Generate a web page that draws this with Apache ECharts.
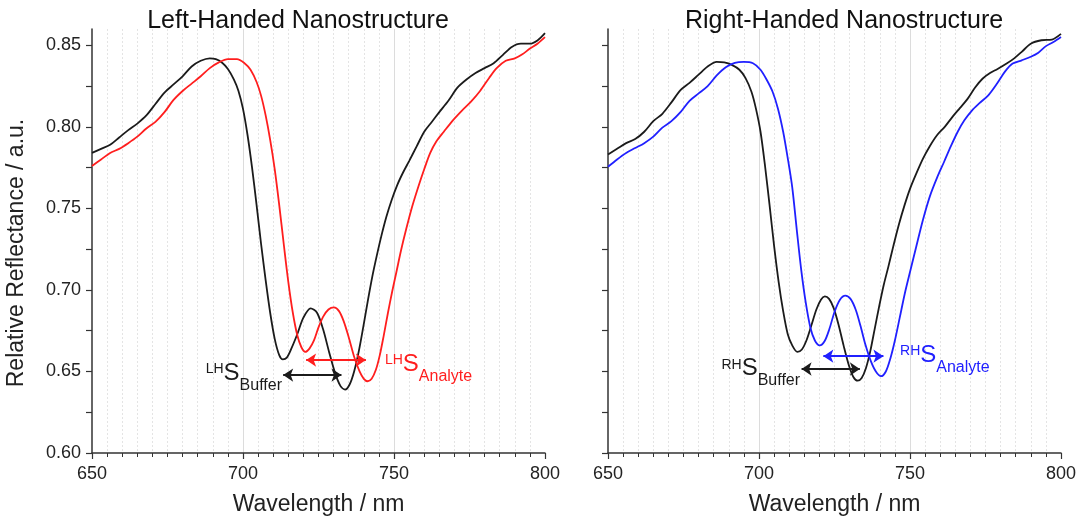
<!DOCTYPE html>
<html>
<head>
<meta charset="utf-8">
<script src="https://cdn.jsdelivr.net/npm/echarts@6/dist/echarts.min.js"></script>
<style>
html,body{margin:0;padding:0;background:#fff;}
#chart{width:1087px;height:526px;}
</style>
</head>
<body>
<div id="chart"></div>
<script>
// ---- Data (wavelength nm, relative reflectance a.u.) ----
const wavelengthLabels = [650, 700, 750, 800];
const reflectanceLabels = [0.60, 0.65, 0.70, 0.75, 0.80, 0.85];
const reflectanceTicks = [0.60, 0.625, 0.65, 0.675, 0.70, 0.725, 0.75, 0.775, 0.80, 0.825, 0.85];

const lhBuffer = [
  [650,0.784],[653,0.7865],[656,0.789],[659,0.7935],[662,0.798],[665,0.802],[668,0.807],[671,0.814],
  [674,0.821],[677,0.826],[680,0.831],[683,0.837],[686,0.8405],[689,0.842],[691,0.8415],[693,0.8395],
  [695,0.8355],[697,0.829],[698.5,0.822],[700,0.811],[701.5,0.795],[703,0.775],[704.5,0.752],[706,0.728],
  [707.5,0.706],[709,0.686],[710.5,0.670],[712,0.660],[713.2,0.6574],[714.5,0.6585],[716,0.664],[718,0.673],
  [720,0.683],[722.4,0.6887],[724.5,0.686],[726.5,0.676],[728.5,0.662],[730.5,0.649],[732.3,0.641],
  [733.8,0.6389],[735.3,0.642],[736.8,0.650],[738.3,0.662],[739.8,0.677],[741.3,0.693],[742.8,0.708],
  [744.3,0.721],[745.8,0.733],[747.5,0.745],[749.2,0.755],[751,0.764],[753,0.772],[755,0.779],[757.5,0.788],
  [760,0.797],[762.5,0.803],[765,0.809],[768,0.816],[771,0.824],[774,0.829],[777,0.833],[780,0.836],
  [783,0.839],[786,0.844],[789,0.849],[792,0.851],[795,0.851],[797.5,0.853],[800,0.8575]
];
const lhAnalyte = [
  [650,0.776],[653,0.780],[656,0.784],[659,0.7865],[662,0.790],[665,0.794],[668,0.799],[671,0.803],
  [674,0.809],[677,0.8165],[680,0.822],[683,0.8265],[686,0.831],[689,0.836],[692,0.8395],[695,0.8415],
  [698,0.8415],[700.5,0.839],[702.5,0.835],[704.5,0.8275],[706,0.819],[707.5,0.807],[709,0.792],[710.5,0.774],
  [712,0.752],[713.5,0.728],[715,0.705],[716.5,0.686],[718,0.672],[719.3,0.665],[720.6,0.662],[722,0.664],
  [723.5,0.669],[725,0.677],[726.5,0.6835],[728.3,0.688],[730.1,0.6893],[731.8,0.687],[733.3,0.681],
  [735,0.671],[736.8,0.659],[738.6,0.650],[740,0.6455],[741.3,0.644],[742.6,0.6455],[744,0.651],
  [745.3,0.660],[746.6,0.672],[748,0.686],[749.4,0.699],[750.8,0.711],[752.3,0.724],[754,0.737],
  [756,0.751],[758,0.763],[760,0.774],[762,0.784],[764,0.791],[766.5,0.797],[769.5,0.804],[772.5,0.810],
  [775.5,0.8155],[778.5,0.822],[781.5,0.830],[784,0.836],[787,0.8405],[790,0.842],[792.5,0.8445],
  [795,0.848],[797.5,0.851],[800,0.855]
];
const rhBuffer = [
  [650,0.783],[653,0.7865],[656,0.790],[659,0.7925],[662,0.797],[665,0.8035],[668,0.808],[671,0.815],
  [674,0.8225],[677,0.827],[680,0.832],[683,0.837],[686,0.8398],[688.5,0.8395],[691,0.838],[693.5,0.835],
  [695.5,0.830],[697.5,0.8215],[699,0.811],[700.5,0.797],[702,0.776],[703.5,0.752],[705,0.727],[706.5,0.705],
  [708,0.687],[709.5,0.673],[711,0.666],[712.7,0.662],[714.2,0.6635],[715.7,0.669],[717.3,0.678],[719,0.688],
  [720.5,0.694],[721.8,0.696],[723.2,0.6945],[724.7,0.689],[726.3,0.679],[728,0.666],[729.8,0.6535],
  [731.3,0.6465],[732.7,0.6444],[734,0.646],[735.4,0.652],[736.8,0.662],[738.3,0.676],[739.8,0.690],
  [741.3,0.703],[742.8,0.714],[744.5,0.727],[746.3,0.740],[748.2,0.752],[750,0.762],[752,0.771],
  [754.3,0.7805],[756.5,0.788],[759,0.795],[761.5,0.800],[764,0.806],[766.5,0.8115],[769,0.817],
  [771.5,0.824],[774,0.8295],[776.5,0.833],[779,0.8355],[782,0.8388],[784.5,0.842],[787,0.846],
  [790,0.851],[793.5,0.8531],[797,0.8535],[800,0.857]
];
const rhAnalyte = [
  [650,0.7755],[653,0.780],[656,0.784],[659,0.787],[662,0.790],[665,0.794],[668,0.7995],[671,0.8035],
  [674,0.809],[677,0.816],[680,0.8205],[683,0.825],[686,0.8315],[689,0.8365],[692,0.8392],[695,0.8398],
  [698,0.839],[700.5,0.835],[702.5,0.829],[704.5,0.8215],[706.3,0.811],[708,0.797],[709.5,0.781],[711,0.763],
  [712.5,0.737],[714,0.712],[715.5,0.692],[717,0.677],[718.5,0.669],[720.1,0.666],[721.7,0.6685],[723.3,0.676],
  [725,0.6865],[726.8,0.694],[728.6,0.6965],[730.3,0.6945],[732,0.688],[733.6,0.678],[735.3,0.666],
  [737,0.6565],[738.7,0.650],[740.4,0.6471],[742,0.650],[743.5,0.658],[745,0.669],[746.6,0.683],
  [748.3,0.698],[750,0.711],[752,0.726],[754.3,0.743],[756.6,0.7575],[759,0.769],[761.3,0.7786],
  [763.5,0.788],[765.8,0.797],[768,0.804],[770.5,0.810],[773,0.8145],[776,0.8195],[779,0.827],
  [781.5,0.834],[784,0.8388],[787,0.8408],[790,0.843],[792.5,0.8455],[795,0.8495],[797.5,0.852],[800,0.8551]
];

// shift arrows: [startWavelength, endWavelength, reflectance]
const lhBufferShift = [713.3, 732.6, 0.6478];
const lhAnalyteShift = [720.9, 740.7, 0.6570];
const rhBufferShift = [714.1, 733.4, 0.6515];
const rhAnalyteShift = [721.3, 741.2, 0.6594];

// label anchors: [wavelength, reflectance]
const lhBufferLabelAt = [712.9, 0.6487];
const lhAnalyteLabelAt = [747.0, 0.6542];
const rhBufferLabelAt = [713.6, 0.6516];
const rhAnalyteLabelAt = [746.7, 0.6600];

const titles = ['Left-Handed Nanostructure', 'Right-Handed Nanostructure'];

// ---- Styling ----
const FONT = "'Liberation Sans', Arial, Helvetica, sans-serif";
const BLACK = '#1b1b1b', RED = '#ff1e1e', BLUE = '#2020ff';
const AXIS = '#333';

function xAxisFor(i) {
  return {
    gridIndex: i, type: 'value', min: 650, max: 800, interval: 50,
    name: 'Wavelength / nm', nameLocation: 'middle', nameGap: 40,
    nameTextStyle: {fontFamily: FONT, fontSize: 23, color: '#222'},
    axisLine: {show: true, onZero: false, lineStyle: {color: AXIS, width: 1.5}},
    axisTick: {show: true, inside: false, length: 6, lineStyle: {color: AXIS, width: 1.2}},
    minorTick: {show: true, splitNumber: 10, length: 4, lineStyle: {color: AXIS, width: 1}},
    axisLabel: {
      fontFamily: FONT, fontSize: 18, color: '#222', margin: 12,
      customValues: wavelengthLabels
    },
    splitLine: {show: true, showMinLine: false, showMaxLine: false, lineStyle: {color: '#dcdcdc', width: 1}},
    minorSplitLine: {show: true, lineStyle: {color: '#e4e4e4', width: 1, type: [2, 2]}}
  };
}
function yAxisFor(i) {
  return {
    gridIndex: i, type: 'value', min: 0.60, max: 0.86,
    name: i === 0 ? 'Relative Reflectance / a.u.' : '',
    nameLocation: 'middle', nameGap: 64, nameRotate: 90,
    nameTextStyle: {fontFamily: FONT, fontSize: 23, color: '#222', padding: [0, 24, 0, 0]},
    axisLine: {show: true, onZero: false, lineStyle: {color: AXIS, width: 1.5}},
    axisTick: {show: true, inside: false, length: 6, lineStyle: {color: AXIS, width: 1.2}, customValues: reflectanceTicks},
    axisLabel: {
      show: i === 0, fontFamily: FONT, fontSize: 18, color: '#222', margin: 11,
      customValues: reflectanceLabels,
      formatter: v => v.toFixed(2)
    },
    splitLine: {show: false}
  };
}

const rich = {
  sup: {fontFamily: FONT, fontSize: 14, padding: [0, 0, 8, 0]},
  s: {fontFamily: FONT, fontSize: 24},
  sub: {fontFamily: FONT, fontSize: 16, padding: [24, 0, 0, 0]}
};
function richFor(color) {
  const r = {};
  for (const k in rich) r[k] = Object.assign({color: color}, rich[k]);
  return r;
}

function curve(name, data, color, i, shift, labelAt, sup, sub, side) {
  return {
    name: name, type: 'line', xAxisIndex: i, yAxisIndex: i,
    data: data, showSymbol: false, symbol: 'none',
    smooth: 0.3,
    lineStyle: {color: color, width: 1.8},
    itemStyle: {color: color},
    silent: true,
    markLine: {
      silent: true, symbol: ['arrow', 'arrow'], symbolSize: [10, 10],
      label: {show: false},
      lineStyle: {color: color, width: 1.8, type: 'solid'},
      data: [[{coord: [shift[0], shift[2]]}, {coord: [shift[1], shift[2]]}]]
    },
    markPoint: {
      silent: true, symbol: 'circle', symbolSize: 0,
      data: [{
        coord: labelAt,
        label: {
          show: true,
          position: side === 'left' ? 'left' : 'right',
          distance: 0,
          formatter: '{sup|' + sup + '}{s|S}{sub|' + sub + '}',
          rich: richFor(color)
        }
      }]
    }
  };
}

const chart = echarts.init(document.getElementById('chart'), null, {renderer: 'canvas'});
chart.setOption({
  animation: false,
  backgroundColor: '#fff',
  title: [
    {text: titles[0], left: 293, top: 4, textAlign: 'center',
     textStyle: {fontFamily: FONT, fontSize: 25, fontWeight: 'normal', color: '#111'}},
    {text: titles[1], left: 839, top: 4, textAlign: 'center',
     textStyle: {fontFamily: FONT, fontSize: 25, fontWeight: 'normal', color: '#111'}}
  ],
  grid: [
    {left: 92, right: 542, top: 29, bottom: 73, containLabel: false},
    {left: 608, right: 26, top: 29, bottom: 73, containLabel: false}
  ],
  xAxis: [xAxisFor(0), xAxisFor(1)],
  yAxis: [yAxisFor(0), yAxisFor(1)],
  series: [
    curve('LH Buffer', lhBuffer, BLACK, 0, lhBufferShift, lhBufferLabelAt, 'LH', 'Buffer', 'left'),
    curve('LH Analyte', lhAnalyte, RED, 0, lhAnalyteShift, lhAnalyteLabelAt, 'LH', 'Analyte', 'right'),
    curve('RH Buffer', rhBuffer, BLACK, 1, rhBufferShift, rhBufferLabelAt, 'RH', 'Buffer', 'left'),
    curve('RH Analyte', rhAnalyte, BLUE, 1, rhAnalyteShift, rhAnalyteLabelAt, 'RH', 'Analyte', 'right')
  ]
});
</script>
</body>
</html>
